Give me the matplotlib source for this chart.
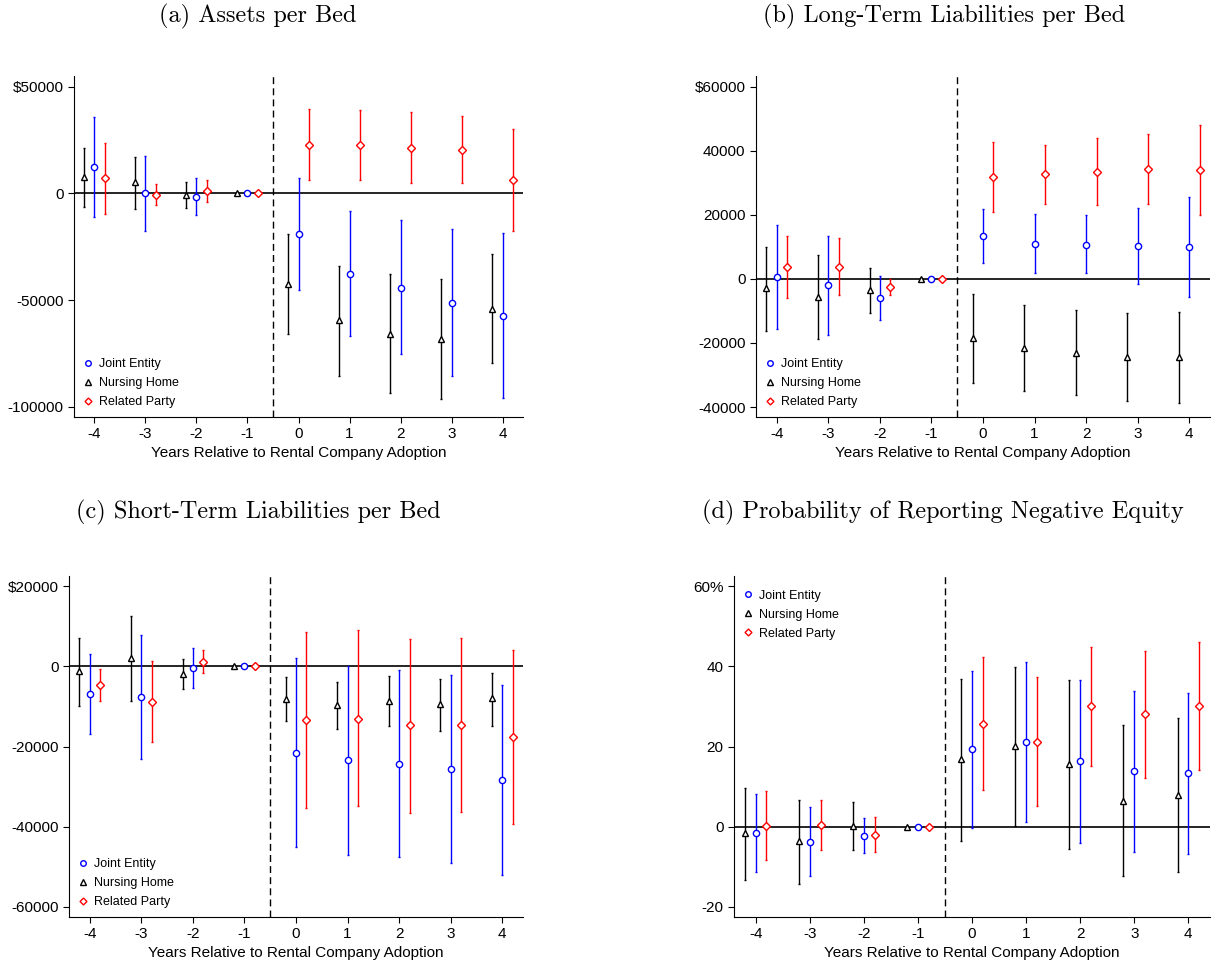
import matplotlib
matplotlib.use("Agg")
import numpy as np
import matplotlib.pyplot as plt
from matplotlib.lines import Line2D

plt.rcParams['font.family'] = ['Liberation Sans', 'DejaVu Sans']

years = [-4, -3, -2, -1, 0, 1, 2, 3, 4]

# (a) Assets per Bed
a_nh = [7500, 5150, -800, 0, -42200, -59400, -65600, -68000, -53900]
a_nh_lo = [-6250, -7200, -6700, 0, -65600, -85300, -93400, -96250, -79400]
a_nh_hi = [21100, 16900, 5200, 0, -19060, -33750, -37800, -40200, -28400]
a_je = [12200, 0, -1560, 0, -19060, -37500, -44060, -51250, -57300]
a_je_lo = [-11250, -17500, -10300, 0, -45300, -66900, -75300, -85600, -95800]
a_je_hi = [35600, 17500, 7000, 0, 7000, -8000, -12650, -16700, -18600]
a_rp = [7200, -600, 1100, 0, 22800, 22500, 21250, 20300, 6250]
a_rp_lo = [-9400, -5500, -3900, 0, 6250, 6100, 4700, 4700, -17800]
a_rp_hi = [23400, 4200, 6100, 0, 39400, 38900, 38000, 36250, 30000]

# (b) Long-Term Liabilities per Bed
b_nh = [-3000, -5600, -3400, 0, -18300, -21500, -23000, -24400, -24300]
b_nh_lo = [-16250, -18750, -10600, 0, -32400, -35100, -36350, -38200, -38650]
b_nh_hi = [10000, 7400, 3500, 0, -4600, -8200, -9600, -10600, -10300]
b_je = [600, -2000, -5900, 0, 13300, 11000, 10700, 10100, 9800]
b_je_lo = [-15500, -17400, -12900, 0, 5000, 1900, 1700, -1700, -5600]
b_je_hi = [16770, 13500, 900, 0, 21700, 20300, 19800, 22000, 25400]
b_rp = [3650, 3850, -2500, 0, 31800, 32700, 33500, 34300, 33850]
b_rp_lo = [-5900, -4900, -5100, 0, 20900, 23500, 23100, 23300, 19800]
b_rp_hi = [13300, 12600, 0, 0, 42700, 41700, 43850, 45200, 48000]

# (c) Short-Term Liabilities per Bed
c_nh = [-1250, 2080, -1830, 0, -8070, -9570, -8650, -9490, -7990]
c_nh_lo = [-9900, -8650, -5570, 0, -13560, -15560, -14980, -16060, -14810]
c_nh_hi = [7150, 12480, 1750, 0, -2580, -3830, -2410, -3080, -1580]
c_je = [-6800, -7650, -420, 0, -21550, -23380, -24300, -25630, -28290]
c_je_lo = [-16800, -23200, -5400, 0, -45100, -47000, -47420, -49090, -51920]
c_je_hi = [3160, 7900, 4660, 0, 2000, 170, -1000, -2080, -4580]
c_rp = [-4660, -8800, 1160, 0, -13480, -13060, -14730, -14640, -17640]
c_rp_lo = [-8650, -18900, -1660, 0, -35360, -34940, -36500, -36360, -39350]
c_rp_hi = [-580, 1330, 4160, 0, 8570, 8990, 6900, 7150, 4160]

# (d) Probability of Reporting Negative Equity (%)
d_nh = [-1.66, -3.66, 0.25, 0, 16.8, 20.1, 15.6, 6.5, 7.9]
d_nh_lo = [-13.2, -14.2, -5.9, 0, -3.5, 0.25, -5.66, -12.4, -11.4]
d_nh_hi = [9.57, 6.57, 6.24, 0, 36.9, 39.9, 36.5, 25.4, 27.0]
d_je = [-1.58, -3.74, -2.25, 0, 19.3, 21.0, 16.4, 14.0, 13.3]
d_je_lo = [-11.4, -12.2, -6.5, 0, -0.2, 1.08, -4.0, -6.2, -6.7]
d_je_hi = [8.07, 4.8, 2.16, 0, 38.9, 41.0, 36.7, 33.9, 33.4]
d_rp = [0.25, 0.33, -2.08, 0, 25.7, 21.2, 30.0, 28.0, 30.1]
d_rp_lo = [-8.3, -5.7, -6.4, 0, 9.15, 5.24, 15.1, 12.2, 14.1]
d_rp_hi = [8.9, 6.57, 2.33, 0, 42.3, 37.4, 44.8, 43.8, 46.1]

titles = ["(a) Assets per Bed", "(b) Long-Term Liabilities per Bed",
          "(c) Short-Term Liabilities per Bed",
          "(d) Probability of Reporting Negative Equity"]
a_ticks = [50000, 0, -50000, -100000]
a_labels = ["$50000", "0", "-50000", "-100000"]
b_ticks = [60000, 40000, 20000, 0, -20000, -40000]
b_labels = ["$60000", "40000", "20000", "0", "-20000", "-40000"]
c_ticks = [20000, 0, -20000, -40000, -60000]
c_labels = ["$20000", "0", "-20000", "-40000", "-60000"]
d_ticks = [60, 40, 20, 0, -20]
d_labels = ["60%", "40", "20", "0", "-20"]

W, H = 1214, 968
fig = plt.figure(figsize=(W / 100, H / 100), dpi=100)


def px_axes(left, top, right, bottom):
    return fig.add_axes([left / W, 1 - bottom / H, (right - left) / W, (bottom - top) / H])


def draw(ax, series, ylim, ticks, labels, legend_loc, anchor):
    x = np.array(years, dtype=float)
    ax.axhline(0, color='black', lw=1.2, zorder=1)
    ax.axvline(-0.5, color='black', lw=1, ls=(0, (5, 3)), zorder=1)
    styles = [(-0.2, '^', 'black', 4.5), (0.0, 'o', 'blue', 4.5), (0.2, 'D', 'red', 4)]
    for (pt, lo, hi), (off, mk, col, ms) in zip(series, styles):
        pt = np.array(pt, dtype=float)
        err = [pt - np.array(lo), np.array(hi) - pt]
        ax.errorbar(x + off, pt, yerr=err, fmt=mk, ms=ms, mfc='white', mec=col,
                    mew=1, ecolor=col, elinewidth=1, capsize=1, capthick=1, zorder=3)
    ax.set_xlim(-4.4, 4.4)
    ax.set_ylim(*ylim)
    ax.set_xticks(years)
    ax.set_xticklabels([str(v) for v in years])
    ax.set_yticks(ticks)
    ax.set_yticklabels(labels)
    ax.tick_params(labelsize=11, length=4, width=0.8, colors='black')
    ax.spines['top'].set_visible(False)
    ax.spines['right'].set_visible(False)
    ax.set_xlabel("Years Relative to Rental Company Adoption", fontsize=11, labelpad=3)
    handles = [Line2D([], [], ls='none', marker='o', ms=4, mfc='white', mec='blue'),
               Line2D([], [], ls='none', marker='^', ms=4, mfc='white', mec='black'),
               Line2D([], [], ls='none', marker='D', ms=3.5, mfc='white', mec='red')]
    ax.legend(handles, ["Joint Entity", "Nursing Home", "Related Party"], loc=legend_loc,
              bbox_to_anchor=anchor, frameon=False, fontsize=9, handlelength=0.8,
              handletextpad=0.5, labelspacing=0.55, borderaxespad=0.3, borderpad=0.4)


ax_a = px_axes(74, 76, 523, 417)
draw(ax_a, [(a_nh, a_nh_lo, a_nh_hi), (a_je, a_je_lo, a_je_hi), (a_rp, a_rp_lo, a_rp_hi)],
     (-104700, 55000), a_ticks, a_labels, 'lower left', (0, 0))
ax_b = px_axes(756, 76, 1210, 417)
draw(ax_b, [(b_nh, b_nh_lo, b_nh_hi), (b_je, b_je_lo, b_je_hi), (b_rp, b_rp_lo, b_rp_hi)],
     (-43100, 63300), b_ticks, b_labels, 'lower left', (0, 0))
ax_c = px_axes(69, 576, 523, 917)
draw(ax_c, [(c_nh, c_nh_lo, c_nh_hi), (c_je, c_je_lo, c_je_hi), (c_rp, c_rp_lo, c_rp_hi)],
     (-62500, 22500), c_ticks, c_labels, 'lower left', (0, 0))
ax_d = px_axes(734, 576, 1210, 917)
draw(ax_d, [(d_nh, d_nh_lo, d_nh_hi), (d_je, d_je_lo, d_je_hi), (d_rp, d_rp_lo, d_rp_hi)],
     (-22.5, 62.5), d_ticks, d_labels, 'upper left', (0, 0.985))

title_pos = [(258, 16), (944, 16), (258, 512), (943, 512)]
for t, (tx, ty) in zip(titles, title_pos):
    fig.text(tx / W, 1 - ty / H, t, ha='center', va='center', family='cmr10', fontsize=17.5)

fig.savefig("out.png", dpi=100)
